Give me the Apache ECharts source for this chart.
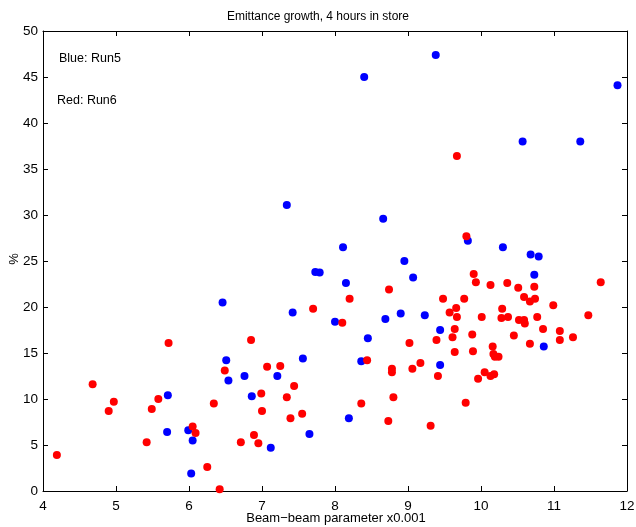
<!DOCTYPE html>
<html>
<head>
<meta charset="utf-8">
<script src="https://cdn.jsdelivr.net/npm/echarts@6/dist/echarts.min.js"></script>
<style>
  html, body { margin: 0; padding: 0; background: #fff; }
  #grafico { width: 636px; height: 527px; }
</style>
</head>
<body>
<div id="grafico"></div>
<script>
// Run5 (blue) [beam-beam parameter x0.001, emittance growth %]
const run5 = [
  [9.38, 47.4], [8.40, 45.0], [11.87, 44.1], [10.57, 38.0], [11.36, 38.0],
  [7.34, 31.1], [8.66, 29.6], [9.82, 27.2], [8.11, 26.5], [10.30, 26.5],
  [8.95, 25.0], [10.68, 25.7], [10.79, 25.5], [9.07, 23.2], [10.73, 23.5],
  [7.73, 23.8], [7.79, 23.75], [8.15, 22.6], [6.46, 20.5], [7.42, 19.4],
  [8.00, 18.4], [8.69, 18.7], [8.90, 19.3], [9.23, 19.1], [9.44, 17.5],
  [8.45, 16.6], [10.86, 15.7], [6.51, 14.2], [7.56, 14.4], [8.36, 14.1],
  [9.44, 13.7], [6.54, 12.0], [6.76, 12.5], [7.21, 12.5], [6.86, 10.3],
  [5.71, 10.4], [8.19, 7.9], [7.65, 6.2], [7.12, 4.7], [5.70, 6.4],
  [5.99, 6.6], [6.05, 5.5], [6.03, 1.9]
]

// Run6 (red)
const run6 = [
  [9.67, 36.4], [9.80, 27.7], [9.90, 23.6], [9.93, 22.7], [10.13, 22.4],
  [10.36, 22.6], [10.51, 22.1], [10.73, 22.2], [11.64, 22.7], [8.74, 21.9],
  [8.20, 20.9], [9.48, 20.9], [9.77, 20.9], [10.59, 21.1], [10.67, 20.6],
  [10.74, 20.9], [10.99, 20.2], [9.66, 19.9], [9.57, 19.4], [9.67, 18.9],
  [10.01, 18.9], [10.29, 19.8], [10.28, 18.8], [10.37, 18.9], [10.52, 18.6],
  [10.59, 18.6], [10.60, 18.2], [10.77, 18.9], [11.47, 19.1], [7.70, 19.8],
  [8.10, 18.3], [9.64, 17.6], [9.61, 16.7], [9.88, 17.0], [9.39, 16.4],
  [9.02, 16.1], [10.45, 16.9], [10.85, 17.6], [11.08, 17.4], [11.08, 16.4],
  [11.26, 16.7], [10.67, 16.0], [10.16, 15.7], [9.64, 15.1], [9.89, 15.2],
  [10.17, 14.9], [10.19, 14.6], [10.24, 14.6], [6.85, 16.4], [5.72, 16.1],
  [8.44, 14.2], [6.49, 13.1], [7.07, 13.5], [7.25, 13.6], [8.78, 13.3],
  [8.78, 12.9], [9.06, 13.3], [9.17, 13.9], [9.41, 12.5], [10.05, 12.9],
  [10.18, 12.7], [10.13, 12.5], [9.96, 12.2], [7.44, 11.4], [7.34, 10.2],
  [6.99, 10.6], [8.80, 10.2], [4.68, 11.6], [4.97, 9.7], [5.58, 10.0],
  [4.90, 8.7], [5.49, 8.9], [6.34, 9.5], [7.00, 8.7], [8.36, 9.5],
  [9.79, 9.6], [7.39, 7.9], [7.55, 8.4], [8.73, 7.6], [9.31, 7.1],
  [6.89, 6.1], [6.71, 5.3], [6.95, 5.2], [6.05, 7.0], [6.09, 6.3],
  [5.42, 5.3], [4.19, 3.9], [6.25, 2.6], [6.42, 0.2]
]

const xRange = [4, 12]
const yRange = [0, 50]

const fonte = "'Liberation Sans', Arial, sans-serif"

let myChart = echarts.init(document.getElementById("grafico"))

function eixo(pos, min, max, interval, mostrarLabel) {
  return {
    type: "value",
    position: pos,
    min: min,
    max: max,
    interval: interval,
    axisLine: { show: true, onZero: false, lineStyle: { color: "#000", width: 1 } },
    axisTick: { show: true, inside: true, length: 5, lineStyle: { color: "#000" } },
    axisLabel: {
      show: mostrarLabel,
      color: "#000",
      fontSize: 13.5,
      fontFamily: fonte,
      margin: pos === "left" ? 5 : 8,
    },
    splitLine: { show: false },
  }
}

// nomes dos eixos como texto solto (o v6 empurra o name por causa dos labels)
const textoEixo = { fontSize: 13, fontFamily: fonte, fill: "#000", align: "center", verticalAlign: "middle" }

let option = {
  animation: false,
  backgroundColor: "#fff",
  title: {
    text: "Emittance growth, 4 hours in store",
    left: "center",
    top: 6,
    textStyle: { fontSize: 12, fontWeight: "normal", color: "#000", fontFamily: fonte },
  },
  grid: { left: 43, right: 9, top: 31, bottom: 36, containLabel: false, outerBoundsMode: "none" },
  xAxis: [eixo("bottom", xRange[0], xRange[1], 1, true), eixo("top", xRange[0], xRange[1], 1, false)],
  yAxis: [eixo("left", yRange[0], yRange[1], 5, true), eixo("right", yRange[0], yRange[1], 5, false)],
  graphic: [
    { type: "text", left: 59, top: 52, style: { text: "Blue: Run5", fontSize: 12.5, fontFamily: fonte, fill: "#000" } },
    { type: "text", left: 57, top: 94, style: { text: "Red: Run6", fontSize: 12.5, fontFamily: fonte, fill: "#000" } },
    { type: "text", x: 336, y: 518, style: Object.assign({ text: "Beam\u2212beam parameter x0.001" }, textoEixo) },
    { type: "text", x: 14, y: 259, rotation: Math.PI / 2, style: Object.assign({ text: "%" }, textoEixo) },
  ],
  series: [
    {
      name: "Run5",
      type: "scatter",
      data: run5,
      symbolSize: 8,
      itemStyle: { color: "#0000ff", opacity: 1 },
    },
    {
      name: "Run6",
      type: "scatter",
      data: run6,
      symbolSize: 8,
      itemStyle: { color: "#ff0000", opacity: 1 },
    },
  ],
}

option && myChart.setOption(option)
</script>
</body>
</html>
